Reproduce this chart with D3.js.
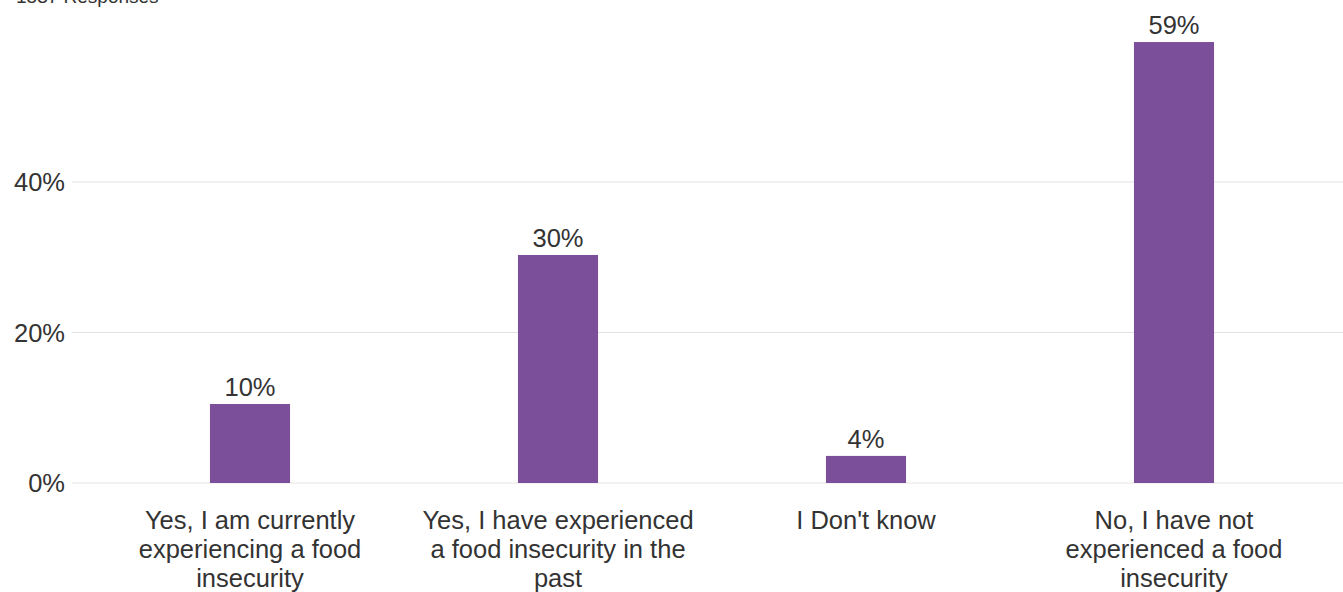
<!DOCTYPE html>
<html><head><meta charset="utf-8">
<script src="https://cdn.jsdelivr.net/npm/d3@7"></script>
<style>body{margin:0;background:#fff;}svg{display:block;font-family:"Liberation Sans",Arial,sans-serif;}</style>
</head><body><svg id="c" width="1343" height="592"></svg>
<script>
const categories = [
  "Yes, I am currently experiencing a food insecurity",
  "Yes, I have experienced a food insecurity in the past",
  "I Don't know",
  "No, I have not experienced a food insecurity"
];
const categoryLines = [
  ["Yes, I am currently", "experiencing a food", "insecurity"],
  ["Yes, I have experienced", "a food insecurity in the", "past"],
  ["I Don't know"],
  ["No, I have not", "experienced a food", "insecurity"]
];
const values = [10.5, 30.3, 3.6, 58.6];
const valueLabels = ["10%", "30%", "4%", "59%"];
const yTicks = [0, 20, 40];
const responsesText = "1537 Responses";

const FS = 25.5;
const svg = d3.select("#c");
const x = d3.scaleBand().domain(categories).range([96, 1328]).paddingInner(0.74).paddingOuter(0.37);
const y = d3.scaleLinear().domain([0, 20]).range([483, 332.5]);

// gridlines
svg.append("g").selectAll("line").data(yTicks).join("line")
  .attr("x1", 72).attr("x2", 1343)
  .attr("y1", d => y(d)).attr("y2", d => y(d))
  .attr("stroke", "#e3e3e3").attr("stroke-width", 1.2);

// y axis labels
const yAxis = svg.append("g").attr("transform", "translate(65,0)")
  .call(d3.axisLeft(y).tickValues(yTicks).tickFormat(d => d + "%").tickSize(0).tickPadding(0));
yAxis.select(".domain").remove();
yAxis.selectAll("text").attr("font-size", FS).attr("fill", "#333").attr("font-family", "Liberation Sans, Arial, sans-serif").attr("dy", "0.35em");

// bars
svg.append("g").selectAll("rect").data(values).join("rect")
  .attr("x", (d, i) => x(categories[i])).attr("width", x.bandwidth())
  .attr("y", d => y(d)).attr("height", d => y(0) - y(d))
  .attr("fill", "#7b4f9a");

// value labels
svg.append("g").selectAll("text").data(values).join("text")
  .attr("x", (d, i) => x(categories[i]) + x.bandwidth() / 2)
  .attr("y", d => y(d) - 8)
  .attr("text-anchor", "middle").attr("font-size", FS).attr("fill", "#333")
  .text((d, i) => valueLabels[i]);

// category labels
const xl = svg.append("g");
categories.forEach((c, i) => {
  const t = xl.append("text").attr("text-anchor", "middle").attr("font-size", FS).attr("fill", "#333");
  categoryLines[i].forEach((l, j) => t.append("tspan").attr("x", x(c) + x.bandwidth() / 2).attr("y", 529 + j * 29).text(l));
});

svg.append("text").attr("x", 16).attr("y", 3).attr("font-size", 19).attr("fill", "#333").text(responsesText);
</script></body></html>
